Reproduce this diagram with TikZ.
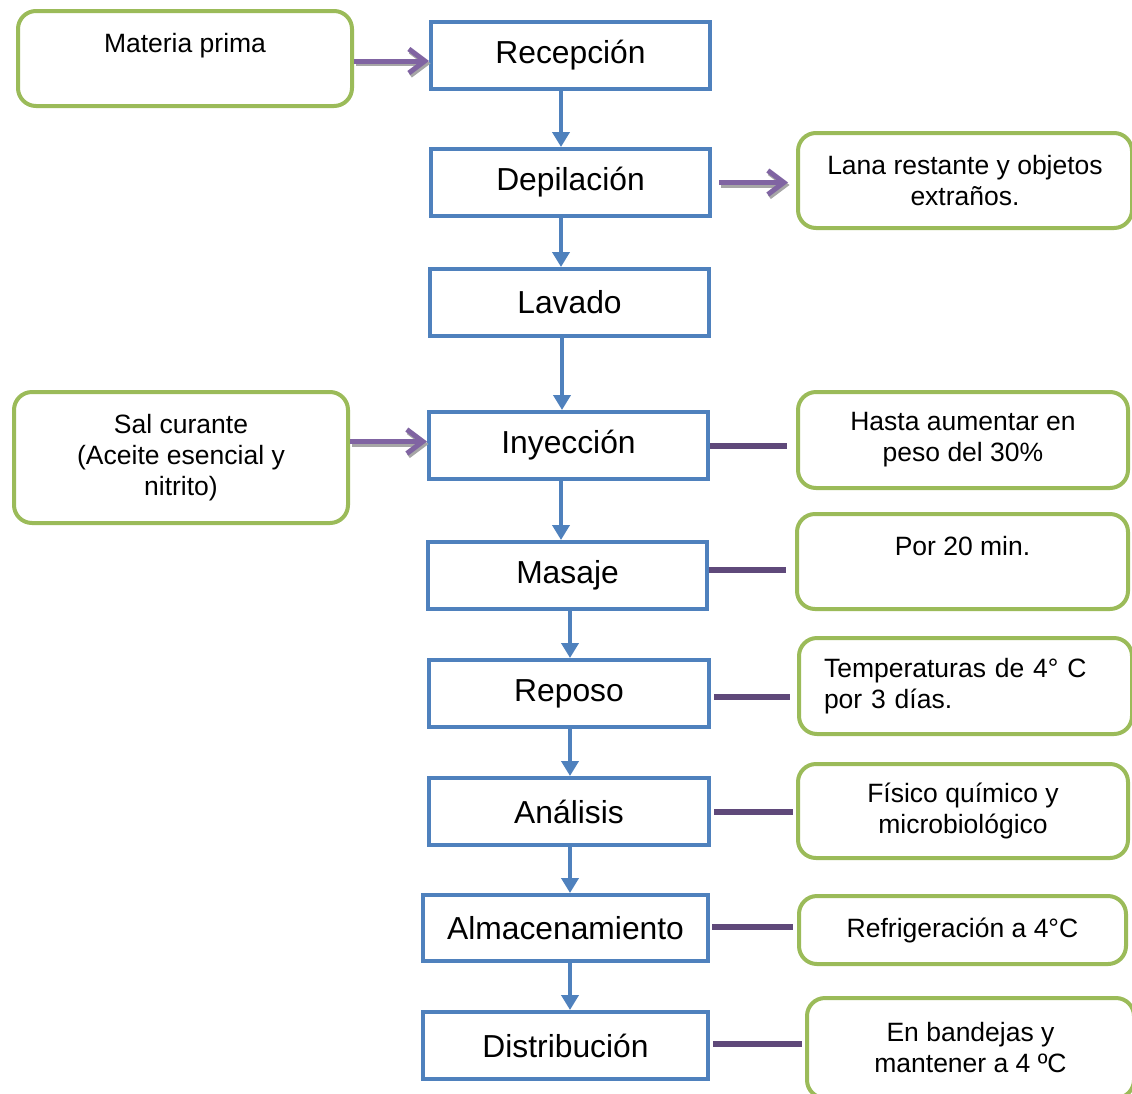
\documentclass[tikz,border=0pt]{standalone}
\usepackage{fontspec}
\setmainfont{Liberation Sans}
\usetikzlibrary{arrows.meta}
\definecolor{blu}{HTML}{4F81BD}
\definecolor{grn}{HTML}{9BBB59}
\definecolor{purp}{HTML}{8064A2}
\definecolor{dpurp}{HTML}{5F497A}
\begin{document}
\begin{tikzpicture}[x=1pt,y=-1pt,
  proc/.style={draw=blu,line width=4pt,rectangle,inner sep=0pt,
    font=\fontsize{31.8}{38}\selectfont},
  note/.style={draw=grn,line width=4pt,rounded corners=18pt,inner sep=0pt,align=center,
    font=\fontsize{26.5}{31}\selectfont},
  flow/.style={draw=blu,line width=4pt,-{Triangle[width=17pt,length=15pt]}},
  pshadow/.style={draw=gray!70,line width=5pt,-{Straight Barb[length=16pt,width=24pt]},
    transform canvas={shift={(1.5pt,-2.5pt)}}},
  parrow/.style={draw=purp,line width=5pt,-{Straight Barb[length=16pt,width=24pt]}},
  link/.style={draw=dpurp,line width=6pt}]
\clip (0,0) rectangle (1132,1093);
\fill[white] (0,0) rectangle (1132,1093);

% process boxes
\node[proc,minimum width=279pt,minimum height=67pt] (rec) at (570.5,55.5) {Recepción};
\node[proc,minimum width=279pt,minimum height=67pt] (dep) at (570.5,182.5) {Depilación};
\node[proc,minimum width=279pt,minimum height=67pt] (lav) at (569.5,302.5) {Lavado};
\node[proc,minimum width=279pt,minimum height=67pt] (iny) at (568.5,445.5) {Inyección};
\node[proc,minimum width=279pt,minimum height=67pt] (mas) at (567.5,575.5) {Masaje};
\node[proc,minimum width=280pt,minimum height=67pt] (rep) at (569,693.5) {Reposo};
\node[proc,minimum width=280pt,minimum height=67pt] (ana) at (569,811.5) {Análisis};
\node[proc,minimum width=285pt,minimum height=66pt] (alm) at (565.5,928) {Almacenamiento};
\node[proc,minimum width=285pt,minimum height=67pt] (dis) at (565.5,1045.5) {Distribución};

% note boxes
\node[note,minimum width=334pt,minimum height=95pt] (mp) at (185,58.5) {Materia prima\\\mbox{}};
\node[note,minimum width=334pt,minimum height=95pt] (lana) at (965,180.5) {Lana restante y objetos\\extraños.};
\node[note,minimum width=334pt,minimum height=131pt] (sal) at (181,457.5) {Sal curante\\(Aceite esencial y\\nitrito)};
\node[note,minimum width=330pt,minimum height=96pt] (has) at (963,440) {Hasta aumentar en\\peso del 30\%};
\node[note,minimum width=331pt,minimum height=95pt] (por) at (962.5,561.5) {Por 20 min.\\\mbox{}};
\node[note,align=left,text width=283pt,inner xsep=25pt,minimum height=96pt] (tem) at (965.5,686) {Temperaturas de 4° C\\por 3 días.};
\node[note,minimum width=330pt,minimum height=94pt] (fis) at (963,811) {Físico químico y\\microbiológico};
\node[note,minimum width=327pt,minimum height=68pt] (ref) at (962.5,930) {Refrigeración a 4°C};
\node[note,minimum width=327pt,minimum height=100pt] (ban) at (970.5,1048) {En bandejas y\\mantener a 4 ºC};

% vertical flow arrows
\draw[flow] ([xshift=-9.5pt]rec.south) -- ([xshift=-9.5pt]rec.south |- dep.north);
\draw[flow] ([xshift=-9.5pt]dep.south) -- ([xshift=-9.5pt]dep.south |- lav.north);
\draw[flow] ([xshift=-7.5pt]lav.south) -- ([xshift=-7.5pt]lav.south |- iny.north);
\draw[flow] ([xshift=-7.5pt]iny.south) -- ([xshift=-7.5pt]iny.south |- mas.north);
\draw[flow] ([xshift=2.5pt]mas.south) -- ([xshift=2.5pt]mas.south |- rep.north);
\draw[flow] ([xshift=1pt]rep.south) -- ([xshift=1pt]rep.south |- ana.north);
\draw[flow] ([xshift=1pt]ana.south) -- ([xshift=1pt]ana.south |- alm.north);
\draw[flow] ([xshift=4.5pt]alm.south) -- ([xshift=4.5pt]alm.south |- dis.north);

% purple arrows with shadow
\draw[pshadow] ([yshift=-2.5pt]mp.east) -- ([yshift=-2.5pt]rec.west |- mp.east);
\draw[parrow] ([yshift=-2.5pt]mp.east) -- ([yshift=-2.5pt]rec.west |- mp.east);
\draw[pshadow,shorten <=7pt,shorten >=8pt] (dep.east) -- (lana.west |- dep.east);
\draw[parrow,shorten <=7pt,shorten >=8pt] (dep.east) -- (lana.west |- dep.east);
\draw[pshadow] (sal.east |- iny.west) ++(0,-4) -- ([yshift=4pt]iny.west);
\draw[parrow] (sal.east |- iny.west) ++(0,-4) -- ([yshift=4pt]iny.west);

% plain links
\draw[link,shorten >=9pt] (iny.east) -- (has.west |- iny.east);
\draw[link,shorten >=9pt] ([yshift=5.5pt]mas.east) -- ([yshift=5.5pt]por.west |- mas.east);
\draw[link,shorten <=3pt,shorten >=7pt] ([yshift=-3.5pt]rep.east) -- ([yshift=-3.5pt]tem.west |- rep.east);
\draw[link,shorten <=3pt,shorten >=3pt] (ana.east) -- (fis.west |- ana.east);
\draw[link,shorten <=2pt,shorten >=4pt] ([yshift=1pt]alm.east) -- ([yshift=1pt]ref.west |- alm.east);
\draw[link,shorten <=3pt,shorten >=3pt] ([yshift=1.5pt]dis.east) -- ([yshift=1.5pt]ban.west |- dis.east);
\end{tikzpicture}
\end{document}
